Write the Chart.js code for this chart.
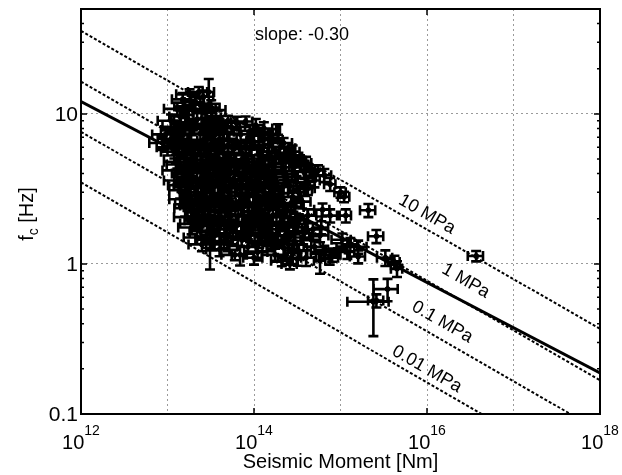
<!DOCTYPE html>
<html>
<head>
<meta charset="utf-8">
<script src="https://cdn.jsdelivr.net/npm/chart.js@4"></script>
<style>
  body { margin: 0; background: #fff; }
  #wrap { width: 622px; height: 475px; }
</style>
</head>
<body>
<div id="wrap"><canvas id="fc-chart"></canvas></div>
<script>
// corner frequency vs seismic moment, roughly one row per band of the cloud
const moment = [
  1.5e13, 1.8e13, 2.1e13, 2.6e13, 3.0e13, 2.3e13,
  1.3e13, 1.6e13, 2.0e13, 2.4e13, 2.8e13, 3.2e13, 3.6e13,
  1.1e13, 1.4e13, 1.7e13, 2.2e13, 2.7e13, 3.3e13, 4.2e13, 5.0e13, 6.3e13, 8.0e13, 1.05e14,
  9.5e12, 1.2e13, 1.5e13, 1.9e13, 2.4e13, 2.9e13, 3.5e13, 4.5e13, 5.5e13, 7.0e13, 9.0e13, 1.2e14, 1.9e14, 1.5e14,
  8.8e12, 1.1e13, 1.35e13, 1.7e13, 2.1e13, 2.6e13, 3.2e13, 4.0e13, 5.0e13, 6.3e13, 8.0e13, 1.0e14, 1.3e14, 1.65e14,
  1.2e13, 1.5e13, 1.85e13, 2.3e13, 2.9e13, 3.6e13, 4.5e13, 5.7e13, 7.2e13, 9.0e13, 1.15e14, 1.45e14, 1.8e14, 2.3e14, 2.5e14,
  1.3e13, 1.6e13, 2.0e13, 2.5e13, 3.1e13, 3.9e13, 4.9e13, 6.2e13, 7.8e13, 9.8e13, 1.25e14, 1.6e14, 2.1e14, 2.7e14, 3.4e14,
  1.25e13, 1.5e13, 1.8e13, 2.2e13, 2.7e13, 3.4e13, 4.2e13, 5.3e13, 6.6e13, 8.3e13, 1.05e14, 1.35e14, 1.7e14, 2.2e14, 2.9e14, 3.8e14, 5.5e14, 6.5e14,
  1.3e13, 1.6e13, 1.95e13, 2.4e13, 3.0e13, 3.7e13, 4.6e13, 5.8e13, 7.3e13, 9.2e13, 1.15e14, 1.45e14, 1.85e14, 2.4e14, 3.1e14, 4.0e14,
  1.4e13, 1.7e13, 2.1e13, 2.6e13, 3.3e13, 4.1e13, 5.1e13, 6.4e13, 8.0e13, 1.0e14, 1.3e14, 1.6e14, 2.0e14, 2.6e14, 3.3e14, 4.2e14,
  1.5e13, 1.85e13, 2.3e13, 2.8e13, 3.5e13, 4.4e13, 5.5e13, 7.0e13, 8.8e13, 1.1e14, 1.4e14, 1.75e14, 2.2e14, 2.8e14, 3.6e14,
  1.6e13, 2.0e13, 2.5e13, 3.1e13, 3.9e13, 4.9e13, 6.1e13, 7.6e13, 9.5e13, 1.2e14, 1.5e14, 1.9e14, 2.4e14, 3.0e14,
  1.7e13, 2.1e13, 2.7e13, 3.3e13, 4.2e13, 5.3e13, 6.6e13, 8.3e13, 1.05e14, 1.3e14, 1.65e14, 2.1e14, 2.6e14, 3.3e14, 4.2e14,
  1.9e13, 2.4e13, 3.0e13, 3.8e13, 4.8e13, 6.0e13, 7.5e13, 9.5e13, 1.2e14, 1.5e14, 1.9e14, 2.4e14, 3.0e14, 3.8e14, 4.8e14, 6.0e14,
  2.2e13, 2.8e13, 3.5e13, 4.5e13, 5.7e13, 7.2e13, 9.0e13, 1.15e14, 1.45e14, 1.8e14, 2.3e14, 2.9e14, 3.7e14, 4.6e14, 5.8e14,
  3.1e13, 6.9e13, 4.0e13, 8.5e13, 1.1e14, 1.4e14, 1.75e14, 2.2e14, 2.7e14, 3.3e14, 4.0e14, 5.0e14, 6.5e14, 7.5e14, 9.0e14, 2.1e14, 2.6e14, 3.2e14, 6.0e13, 1.0e14, 5.8e14,
  1.05e15, 1.3e15, 1.6e15, 1.2e15, 8.0e14, 1.6e15, 3.3e15, 4.5e15, 2.4e15, 3.5e15, 2.6e15, 4.2e15,
  3.4e14, 4.4e14, 5.0e14, 7.6e14, 1.0e15, 1.1e15, 1.15e15, 2.1e15, 2.6e15, 7.6e14, 3.9e14, 6.2e14, 3.7e16,
  // in-between rows of the dense core
  1.25e13, 1.6e13, 2.0e13, 2.5e13, 3.1e13, 3.9e13, 4.9e13,
  1.0e13, 1.25e13, 1.55e13, 1.9e13, 2.35e13, 2.9e13, 3.6e13, 4.5e13, 5.6e13, 7.1e13, 9.0e13, 1.15e14,
  1.4e13, 1.75e13, 2.2e13, 2.75e13, 3.45e13, 4.3e13, 5.4e13, 6.8e13, 8.5e13, 1.07e14, 1.35e14, 1.7e14, 2.15e14,
  1.45e13, 1.8e13, 2.25e13, 2.8e13, 3.5e13, 4.4e13, 5.5e13, 6.9e13, 8.6e13, 1.08e14, 1.35e14, 1.7e14, 2.2e14,
  1.75e13, 2.2e13, 2.75e13, 3.45e13, 4.3e13, 5.4e13, 6.8e13, 8.5e13, 1.07e14, 1.35e14, 1.7e14, 2.15e14, 2.7e14,
  2.0e13, 2.5e13, 3.2e13, 4.0e13, 5.0e13, 6.3e13, 8.0e13, 1.0e14, 1.25e14, 1.6e14, 2.0e14, 2.5e14, 3.2e14,
  2.5e13, 3.3e13, 5.0e13, 1.25e14, 1.6e14, 2.5e14,
  // upper edge under the 10 MPa line
  1.3e14, 1.6e14, 2.2e14, 2.8e14, 2.0e14, 3.0e14, 4.0e14
];
const fc = [
  12.5, 13.5, 12.0, 13.0, 14.0, 14.0,
  10.8, 11.2, 10.5, 11.5, 10.2, 11.0, 10.6,
  9.0, 9.6, 8.8, 9.2, 8.6, 9.4, 8.8, 9.0, 8.7, 8.9, 8.4,
  7.3, 7.8, 7.2, 8.0, 7.4, 7.9, 7.2, 7.6, 8.1, 7.3, 7.7, 7.3, 7.9, 6.9,
  6.4, 6.8, 6.2, 6.6, 6.1, 6.7, 6.3, 6.8, 6.2, 6.6, 6.1, 6.5, 6.2, 6.7,
  5.6, 5.9, 5.4, 5.8, 5.3, 5.7, 5.4, 5.9, 5.5, 5.8, 5.3, 5.6, 5.2, 5.5, 5.9,
  4.8, 5.0, 4.6, 4.9, 4.6, 5.0, 4.7, 4.9, 4.5, 4.8, 4.6, 5.0, 4.7, 4.9, 4.6,
  4.2, 4.0, 4.4, 4.1, 4.3, 3.9, 4.3, 4.0, 4.4, 4.1, 4.3, 3.9, 4.2, 4.0, 4.4, 4.1, 4.2, 3.9,
  3.6, 3.8, 3.5, 3.7, 3.45, 3.8, 3.5, 3.7, 3.4, 3.8, 3.5, 3.7, 3.45, 3.8, 3.5, 3.75,
  3.1, 3.3, 3.0, 3.2, 2.95, 3.3, 3.0, 3.2, 2.9, 3.3, 3.0, 3.2, 2.95, 3.3, 3.0, 3.2,
  2.7, 2.85, 2.6, 2.8, 2.55, 2.75, 2.6, 2.85, 2.55, 2.8, 2.6, 2.75, 2.55, 2.8, 2.6,
  2.35, 2.45, 2.25, 2.4, 2.2, 2.45, 2.3, 2.4, 2.2, 2.45, 2.3, 2.4, 2.25, 2.4,
  2.05, 1.95, 2.1, 1.9, 2.05, 1.95, 2.1, 1.9, 2.05, 1.95, 2.1, 1.9, 2.05, 1.95, 2.1,
  1.75, 1.65, 1.8, 1.7, 1.6, 1.8, 1.65, 1.75, 1.6, 1.8, 1.7, 1.65, 1.75, 1.6, 1.7, 1.75,
  1.5, 1.45, 1.55, 1.42, 1.5, 1.45, 1.55, 1.42, 1.5, 1.45, 1.55, 1.42, 1.5, 1.45, 1.55,
  1.48, 1.15, 1.25, 1.3, 1.2, 1.35, 1.15, 1.28, 1.1, 1.22, 1.1, 1.3, 1.2, 1.1, 1.25, 1.05, 1.0, 1.08, 1.15, 1.1, 1.05,
  1.45, 1.35, 1.3, 1.2, 1.15, 1.12, 1.1, 0.93, 0.56, 0.68, 0.57, 1.03,
  4.9, 4.2, 3.6, 3.4, 3.0, 2.8, 2.1, 2.28, 1.53, 2.1, 3.15, 2.3, 1.13,
  8.2, 8.4, 8.1, 8.3, 8.2, 8.5, 8.2,
  6.0, 5.9, 6.1, 5.95, 6.0, 6.05, 5.9, 6.0, 6.1, 5.9, 6.0, 5.95,
  4.6, 4.45, 4.5, 4.6, 4.45, 4.55, 4.6, 4.45, 4.55, 4.5, 4.45, 4.6, 4.4,
  3.35, 3.25, 3.3, 3.2, 3.3, 3.25, 3.35, 3.2, 3.3, 3.25, 3.35, 3.2, 3.3,
  2.5, 2.55, 2.5, 2.6, 2.5, 2.55, 2.6, 2.5, 2.55, 2.5, 2.6, 2.5, 2.55,
  1.85, 1.9, 1.85, 1.8, 1.88, 1.85, 1.8, 1.9, 1.85, 1.82, 1.88, 1.8, 1.85,
  1.35, 1.4, 1.35, 1.38, 1.4, 1.35,
  8.0, 7.2, 6.4, 5.6, 6.0, 5.2, 4.7
];
// relative errors (fraction of the value)
const momentErr = [
  .25, .3, .25, .3, .15, .25,
  .3, .25, .3, .25, .3, .25, .3,
  .3, .25, .3, .25, .3, .25, .3, .25, .3, .2, .25,
  .3, .3, .25, .3, .25, .3, .25, .3, .25, .3, .25, .3, .05, .25,
  .3, .3, .25, .3, .25, .3, .25, .3, .25, .3, .25, .3, .25, .3,
  .3, .25, .3, .25, .3, .25, .3, .25, .3, .25, .3, .25, .3, .25, .2,
  .3, .25, .3, .25, .3, .25, .3, .25, .3, .25, .3, .25, .3, .2, .25,
  .3, .25, .3, .25, .3, .25, .3, .25, .3, .25, .3, .25, .3, .25, .2, .25, .15, .2,
  .3, .25, .3, .25, .3, .25, .3, .25, .3, .25, .3, .25, .3, .25, .25, .2,
  .25, .3, .25, .3, .25, .3, .25, .3, .25, .3, .25, .3, .25, .3, .25, .2,
  .3, .25, .3, .25, .3, .25, .3, .25, .3, .25, .3, .25, .3, .25, .25,
  .25, .3, .25, .3, .25, .3, .25, .3, .25, .3, .25, .3, .25, .25,
  .3, .25, .3, .25, .3, .25, .3, .25, .3, .25, .3, .25, .3, .25, .25,
  .3, .25, .3, .25, .3, .25, .3, .25, .3, .25, .3, .25, .3, .25, .25, .2,
  .3, .25, .3, .25, .3, .25, .3, .25, .3, .25, .3, .25, .3, .25, .25,
  .1, .2, .3, .25, .3, .25, .3, .25, .3, .25, .3, .25, .3, .25, .25, .25, .2, .25, .3, .25, .15,
  .25, .2, .25, .2, .25, .2, .2, .15, .5, .31, .2, .15,
  .15, .15, .15, .15, .15, .15, .15, .2, .2, .2, .2, .2, .2,
  .3, .25, .3, .25, .3, .25, .3,
  .25, .3, .25, .3, .25, .3, .25, .3, .25, .3, .25, .3,
  .3, .25, .3, .25, .3, .25, .3, .25, .3, .25, .3, .25, .3,
  .3, .25, .3, .25, .3, .25, .3, .25, .3, .25, .3, .25, .3,
  .3, .25, .3, .25, .3, .25, .3, .25, .3, .25, .3, .25, .3,
  .3, .25, .3, .25, .3, .25, .3, .25, .3, .25, .3, .25, .3,
  .3, .25, .3, .25, .3, .25,
  .25, .2, .25, .2, .25, .2, .15
];
const fcErr = [
  .1, .08, .1, .1, .22, .08,
  .1, .1, .12, .1, .1, .12, .1,
  .1, .1, .12, .1, .1, .1, .1, .08, .1, .08, .1,
  .1, .1, .12, .1, .1, .12, .1, .1, .1, .12, .1, .1, .08, .1,
  .1, .1, .12, .1, .1, .12, .1, .1, .1, .12, .1, .1, .1, .1,
  .1, .12, .1, .1, .12, .1, .1, .1, .12, .1, .1, .12, .1, .1, .08,
  .1, .12, .1, .1, .12, .1, .1, .1, .12, .1, .1, .1, .12, .1, .1,
  .1, .12, .1, .1, .12, .1, .1, .1, .12, .1, .1, .12, .1, .1, .1, .1, .08, .1,
  .1, .12, .1, .1, .12, .1, .1, .1, .12, .1, .1, .12, .1, .1, .1, .1,
  .12, .1, .1, .12, .1, .1, .1, .12, .1, .1, .12, .1, .1, .1, .1, .1,
  .1, .12, .1, .1, .12, .1, .1, .1, .12, .1, .1, .12, .1, .1, .1,
  .12, .1, .1, .12, .1, .1, .1, .12, .1, .1, .12, .1, .1, .1,
  .1, .12, .1, .1, .12, .1, .1, .1, .12, .1, .1, .12, .1, .1, .1,
  .1, .12, .1, .1, .12, .1, .1, .1, .12, .1, .1, .12, .1, .1, .1, .1,
  .1, .12, .1, .1, .12, .1, .1, .1, .12, .1, .1, .12, .1, .1, .1,
  .38, .15, .1, .1, .12, .1, .1, .12, .1, .1, .12, .1, .1, .1, .1, .08, .08, .1, .08, .1, .18,
  .1, .1, .1, .1, .1, .1, .12, .12, .41, .17, .1, .1,
  .08, .08, .1, .1, .08, .08, .1, .1, .1, .1, .1, .1, .08,
  .1, .12, .1, .12, .1, .12, .1,
  .12, .1, .12, .1, .12, .1, .12, .1, .12, .1, .12, .1,
  .1, .12, .1, .12, .1, .12, .1, .12, .1, .12, .1, .12, .1,
  .1, .12, .1, .12, .1, .12, .1, .12, .1, .12, .1, .12, .1,
  .1, .12, .1, .12, .1, .12, .1, .12, .1, .12, .1, .12, .1,
  .1, .12, .1, .12, .1, .12, .1, .12, .1, .12, .1, .12, .1,
  .1, .12, .1, .12, .1, .12,
  .1, .1, .08, .1, .1, .08, .1
];

// least-squares fit, drawn across the full moment range
const fitMoment = [1e12, 1e18];
const fitFc = [12.1, 0.188];
const slopeText = 'slope: -0.30';

// constant stress-drop lines: fc at 1e12 Nm and at 1e18 Nm
const stressLabels = ['10 MPa', '1 MPa', '0.1 MPa', '0.01 MPa'];
const stressFc = [[35.7, 0.37], [16.4, 0.168], [7.6, 0.077], [3.5, 0.035]];
const stressLabelAt = [[1.0e16, 2.14], [2.8e16, 0.77], [1.5e16, 0.41], [1.0e16, 0.199]];

const xExponents = [12, 14, 16, 18];
const yTickValues = [0.1, 1, 10];

const FONT = '"Liberation Sans", Arial, Helvetica, sans-serif';

const decor = {
  id: 'decor',
  afterDatasetsDraw(chart) {
    const { ctx, chartArea: a, scales: { x, y } } = chart;
    ctx.save();
    ctx.beginPath();
    ctx.rect(a.left, a.top, a.right - a.left, a.bottom - a.top);
    ctx.clip();

    // error bars with caps
    const cap = 5;
    ctx.strokeStyle = '#000';
    ctx.lineWidth = 2.6;
    ctx.beginPath();
    moment.forEach((m, i) => {
      const px = x.getPixelForValue(m), py = y.getPixelForValue(fc[i]);
      const xl = x.getPixelForValue(m * (1 - momentErr[i]));
      const xr = x.getPixelForValue(m * (1 + momentErr[i]));
      const yt = y.getPixelForValue(fc[i] * (1 + fcErr[i]));
      const yb = y.getPixelForValue(fc[i] * (1 - fcErr[i]));
      ctx.moveTo(xl, py); ctx.lineTo(xr, py);
      ctx.moveTo(xl, py - cap); ctx.lineTo(xl, py + cap);
      ctx.moveTo(xr, py - cap); ctx.lineTo(xr, py + cap);
      ctx.moveTo(px, yt); ctx.lineTo(px, yb);
      ctx.moveTo(px - cap, yt); ctx.lineTo(px + cap, yt);
      ctx.moveTo(px - cap, yb); ctx.lineTo(px + cap, yb);
    });
    ctx.stroke();

    // stress-drop labels follow the slope of the lines
    const dx = x.getPixelForValue(fitMoment[1]) - x.getPixelForValue(fitMoment[0]);
    const dy = y.getPixelForValue(stressFc[0][1]) - y.getPixelForValue(stressFc[0][0]);
    const angle = Math.atan2(dy, dx);
    ctx.fillStyle = '#000';
    ctx.font = '18px ' + FONT;
    ctx.textAlign = 'center';
    ctx.textBaseline = 'middle';
    stressLabels.forEach((t, i) => {
      ctx.save();
      ctx.translate(x.getPixelForValue(stressLabelAt[i][0]), y.getPixelForValue(stressLabelAt[i][1]));
      ctx.rotate(angle);
      ctx.fillText(t, 0, 0);
      ctx.restore();
    });
    ctx.restore();
  },
  afterDraw(chart) {
    const { ctx, chartArea: a, scales: { x, y } } = chart;
    ctx.save();
    ctx.strokeStyle = '#000';
    ctx.fillStyle = '#000';

    // axes box
    ctx.lineWidth = 2;
    ctx.strokeRect(a.left, a.top, a.right - a.left, a.bottom - a.top);

    // tick marks
    ctx.lineWidth = 1.5;
    ctx.beginPath();
    yTickValues.forEach(d => {
      const py = y.getPixelForValue(d);
      ctx.moveTo(a.left, py); ctx.lineTo(a.left + 6, py);
      ctx.moveTo(a.right, py); ctx.lineTo(a.right - 6, py);
      for (let k = 2; k <= 9; k++) {
        const v = k * d;
        if (v > y.max) break;
        const pm = y.getPixelForValue(v);
        ctx.moveTo(a.left, pm); ctx.lineTo(a.left + 3, pm);
        ctx.moveTo(a.right, pm); ctx.lineTo(a.right - 3, pm);
      }
    });
    xExponents.forEach(e => {
      const px = x.getPixelForValue(Math.pow(10, e));
      ctx.moveTo(px, a.bottom); ctx.lineTo(px, a.bottom - 6);
      ctx.moveTo(px, a.top); ctx.lineTo(px, a.top + 6);
    });
    ctx.stroke();

    // y tick labels
    ctx.font = '21px ' + FONT;
    ctx.textAlign = 'right';
    ctx.textBaseline = 'middle';
    yTickValues.forEach(v => {
      ctx.fillText(String(v), a.left - 3, y.getPixelForValue(v) + 1);
    });

    // x tick labels as 10 with a raised exponent
    ctx.textAlign = 'left';
    ctx.textBaseline = 'alphabetic';
    xExponents.forEach(e => {
      const px = x.getPixelForValue(Math.pow(10, e));
      ctx.font = '20px ' + FONT;
      const wb = ctx.measureText('10').width;
      ctx.font = '14px ' + FONT;
      const ws = ctx.measureText(String(e)).width;
      const x0 = px - (wb + ws) / 2;
      ctx.font = '20px ' + FONT;
      ctx.fillText('10', x0, a.bottom + 35);
      ctx.font = '14px ' + FONT;
      ctx.fillText(String(e), x0 + wb, a.bottom + 21);
    });

    // axis titles
    ctx.font = '20px ' + FONT;
    ctx.textAlign = 'center';
    ctx.fillText('Seismic Moment [Nm]', (a.left + a.right) / 2, a.bottom + 54);

    ctx.save();
    ctx.translate(33, 214);
    ctx.rotate(-Math.PI / 2);
    ctx.textAlign = 'left';
    ctx.font = '20px ' + FONT;
    const wf = ctx.measureText('f').width;
    const wr = ctx.measureText(' [Hz]').width;
    ctx.font = '14px ' + FONT;
    const wc = ctx.measureText('c').width;
    const tx = -(wf + wc + wr) / 2;
    ctx.font = '20px ' + FONT;
    ctx.fillText('f', tx, 0);
    ctx.font = '14px ' + FONT;
    ctx.fillText('c', tx + wf, 5);
    ctx.font = '20px ' + FONT;
    ctx.fillText(' [Hz]', tx + wf + wc, 0);
    ctx.restore();

    // fitted slope note
    ctx.font = '18px ' + FONT;
    ctx.textAlign = 'left';
    ctx.fillText(slopeText, x.getPixelForValue(1e14) + 1, a.top + 31);
    ctx.restore();
  }
};

const lineEnds = [1e12, 1e18];
const stressSets = stressFc.map((pair, i) => ({
  label: stressLabels[i],
  data: lineEnds.map((m, j) => ({ x: m, y: pair[j] })),
  showLine: true,
  borderColor: '#000',
  borderWidth: 2,
  borderDash: [3, 2],
  pointRadius: 0
}));

new Chart(document.getElementById('fc-chart'), {
  type: 'scatter',
  data: {
    datasets: [
      {
        label: 'events',
        data: moment.map((m, i) => ({ x: m, y: fc[i] })),
        backgroundColor: '#000',
        borderColor: '#000',
        pointRadius: 2.5
      },
      {
        label: 'fit',
        data: fitMoment.map((m, i) => ({ x: m, y: fitFc[i] })),
        showLine: true,
        borderColor: '#000',
        borderWidth: 3,
        pointRadius: 0
      },
      ...stressSets
    ]
  },
  options: {
    responsive: true,
    maintainAspectRatio: false,
    animation: false,
    layout: { padding: { left: 81, right: 22, top: 9, bottom: 61 } },
    plugins: { legend: { display: false }, tooltip: { enabled: false } },
    scales: {
      x: {
        type: 'logarithmic',
        min: 1e12,
        max: 1e18,
        afterBuildTicks: s => { s.ticks = [12, 13, 14, 15, 16, 17, 18].map(e => ({ value: Math.pow(10, e) })); },
        ticks: { display: false },
        grid: { color: '#9a9a9a', lineWidth: 1, drawTicks: false },
        border: { display: false, dash: [2, 3] }
      },
      y: {
        type: 'logarithmic',
        min: 0.1,
        max: 50,
        afterBuildTicks: s => { s.ticks = yTickValues.map(v => ({ value: v })); },
        ticks: { display: false },
        grid: { color: '#9a9a9a', lineWidth: 1, drawTicks: false },
        border: { display: false, dash: [2, 3] }
      }
    }
  },
  plugins: [decor]
});
</script>
</body>
</html>
